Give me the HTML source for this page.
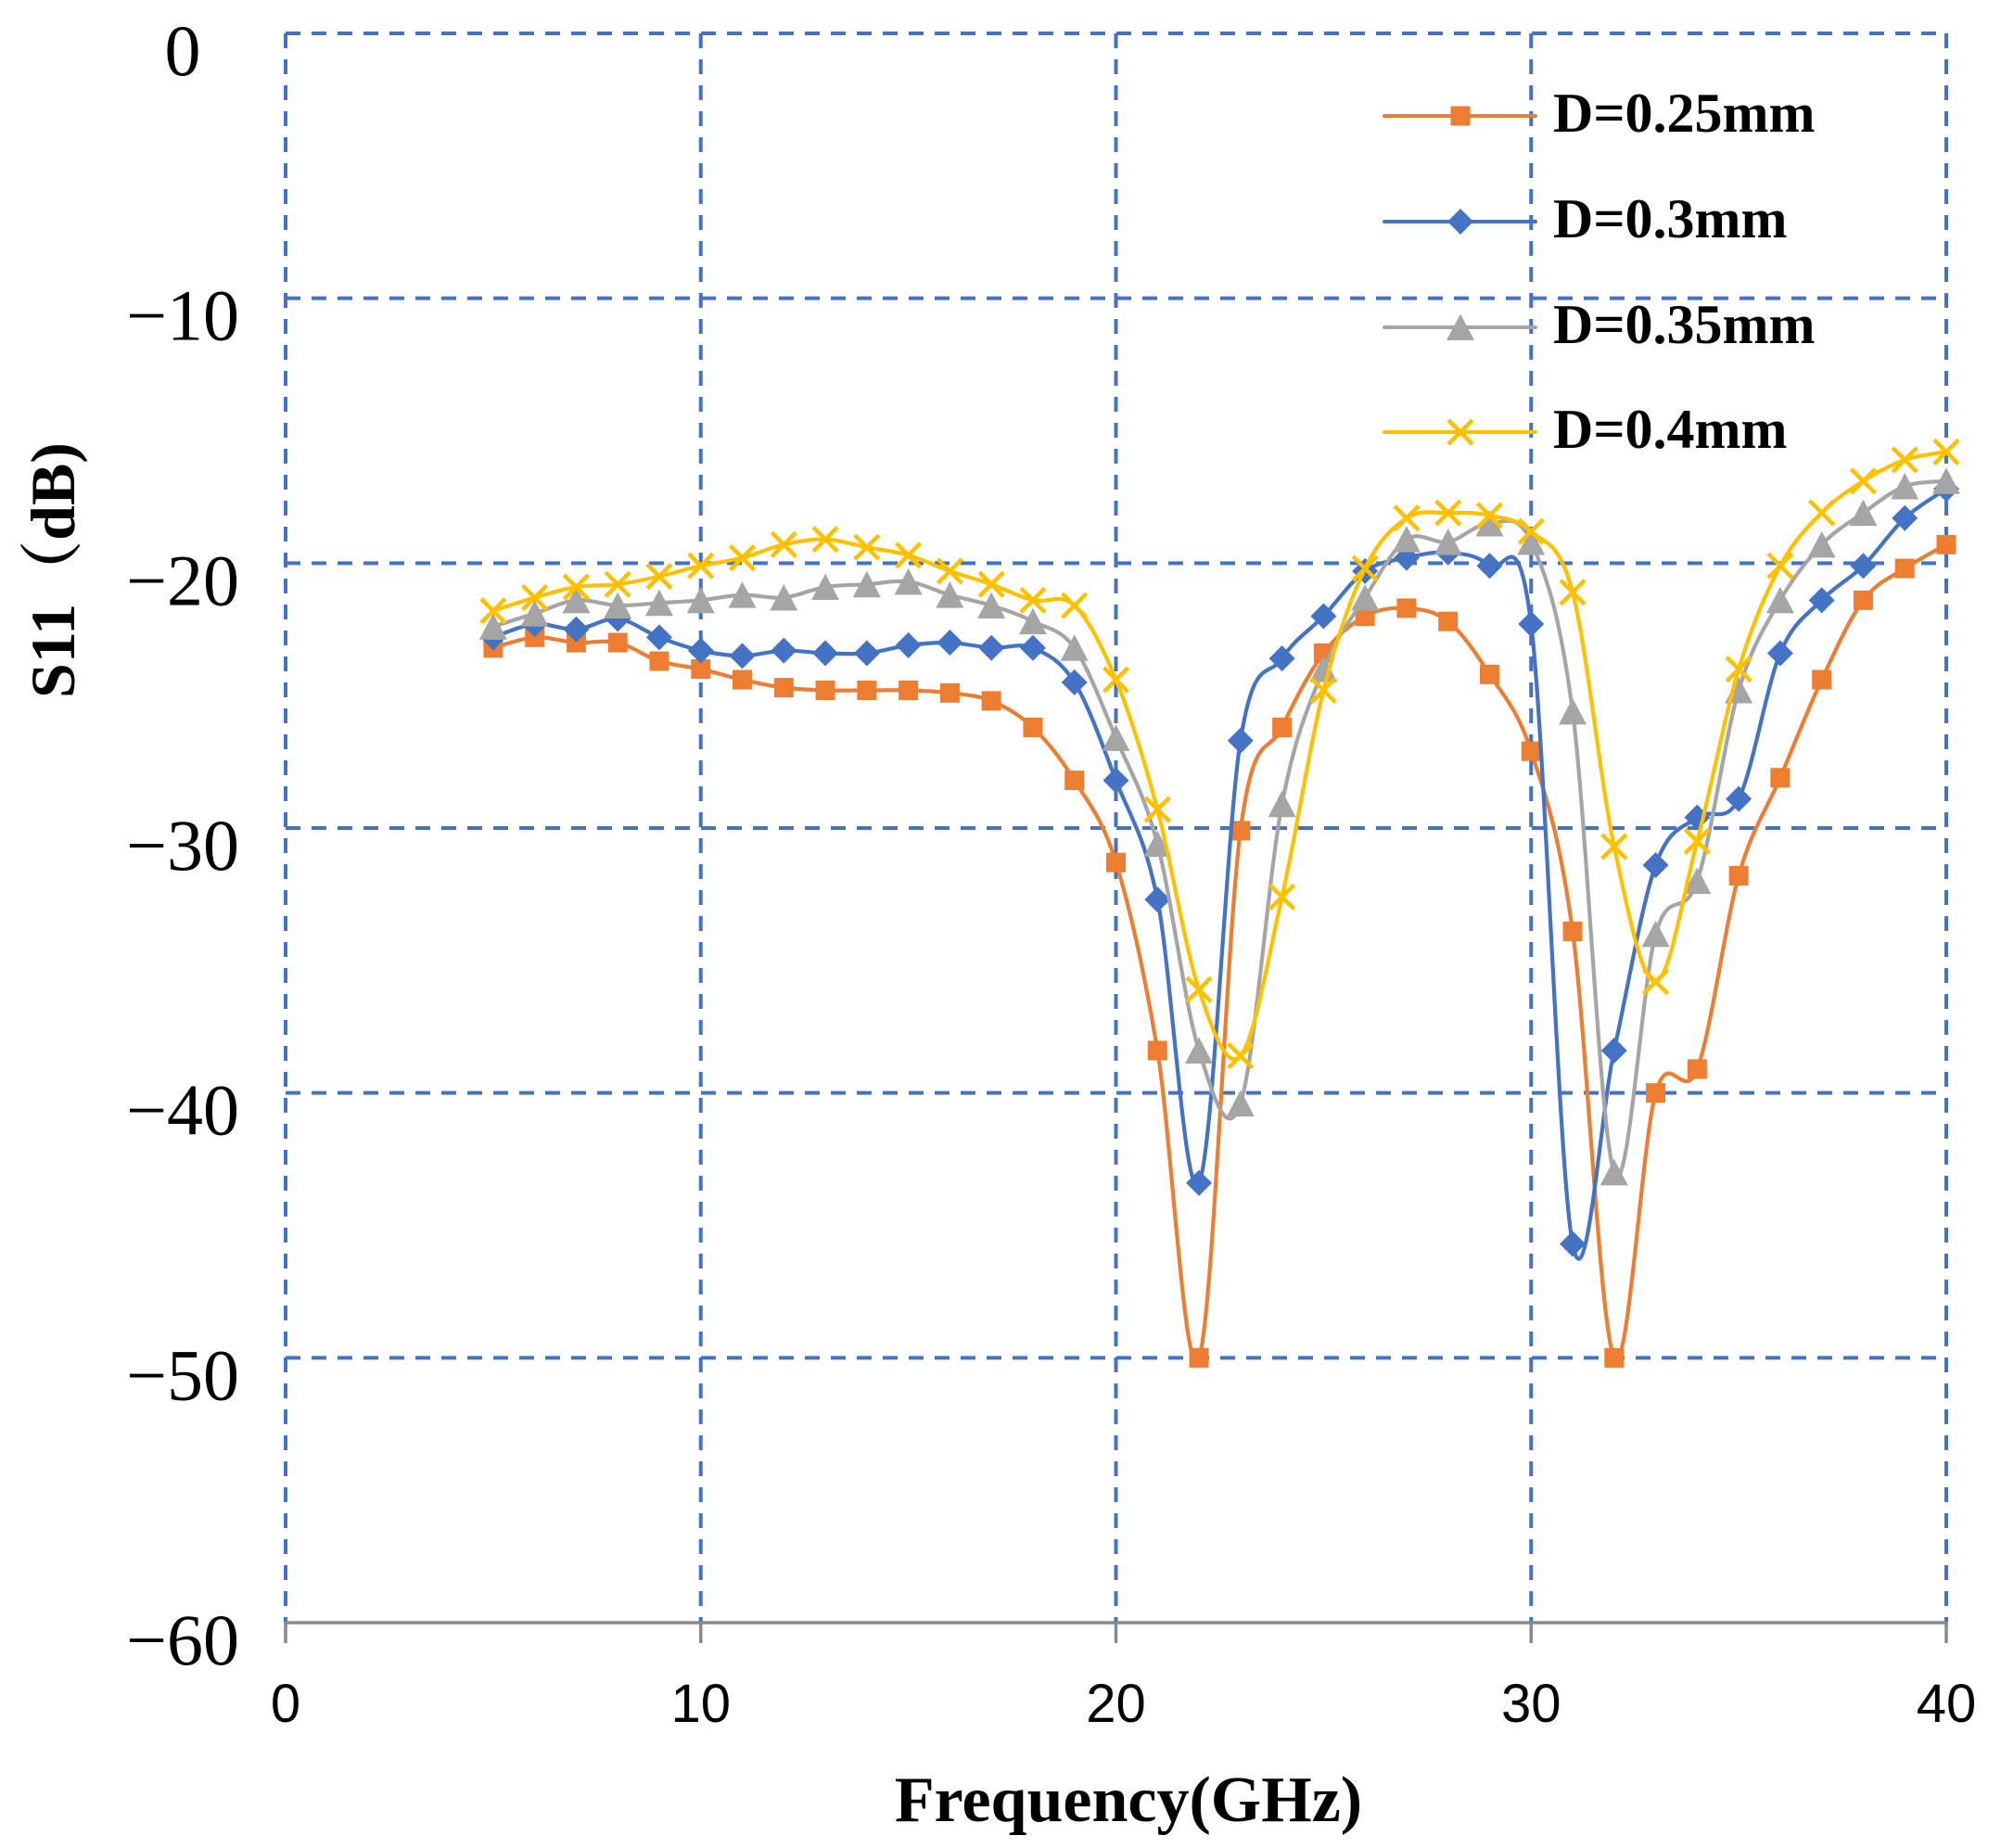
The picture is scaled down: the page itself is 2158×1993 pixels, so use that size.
<!DOCTYPE html>
<html><head><meta charset="utf-8"><style>
html,body{margin:0;padding:0;background:#fff;}
svg{display:block;}
</style></head><body>
<svg id="s" width="2158" height="1993" xmlns="http://www.w3.org/2000/svg">
<g id="grid" stroke="#4472C4" stroke-width="4" stroke-dasharray="16,12" fill="none"></g>
<g id="axis"></g>
<g id="series"></g>
<g font-family="Liberation Serif, serif" font-size="78" text-anchor="middle" fill="#000" id="ylab"></g>
<g font-family="Liberation Sans, sans-serif" font-size="58" text-anchor="middle" fill="#000" id="xlab"></g>
<text x="1217" y="1964" font-family="Liberation Serif, serif" font-weight="bold" font-size="70" text-anchor="middle">Frequency(GHz)</text>
<text transform="translate(80,615) rotate(-90)" font-family="Liberation Serif, 'Noto Serif CJK SC', serif" font-weight="bold" font-size="68" text-anchor="middle">S11（dB)</text>
<g id="legend"></g>
</svg>
<script>
var NS="http://www.w3.org/2000/svg";
function X(f){return 308+f*44.775;}
function Y(v){return 36-v*28.567;}
function el(p,t,a,txt){var e=document.createElementNS(NS,t);for(var k in a)e.setAttribute(k,a[k]);if(txt!==undefined)e.textContent=txt;p.appendChild(e);return e;}
var g=document.getElementById('grid');
for(var v=0;v>=-50;v-=10) el(g,'line',{x1:X(0),x2:X(40),y1:Y(v),y2:Y(v)});
for(var f=0;f<=40;f+=10) el(g,'line',{x1:X(f),x2:X(f),y1:Y(0),y2:Y(-60)});
var ax=document.getElementById('axis');
el(ax,'line',{x1:X(0)-1.5,x2:X(40)+1.5,y1:Y(-60),y2:Y(-60),stroke:'#898989','stroke-width':3.5});
for(var f=0;f<=40;f+=10) el(ax,'line',{x1:X(f),x2:X(f),y1:Y(-60),y2:Y(-60)+22,stroke:'#898989','stroke-width':3.5});
var yl=document.getElementById('ylab');
for(var v=0;v>=-60;v-=10) el(yl,'text',{x:197,y:Y(v)+45},v==0?'0':'\u2212'+(-v));
var xl=document.getElementById('xlab');
for(var f=0;f<=40;f+=10) el(xl,'text',{x:X(f),y:1857},''+f);
var D={
o:[-22.8,-22.4,-22.6,-22.6,-23.3,-23.6,-24.0,-24.3,-24.4,-24.4,-24.4,-24.5,-24.8,-25.8,-27.8,-30.9,-38.0,-50.0,-29.7,-25.8,-23.0,-21.6,-21.3,-21.8,-23.8,-26.7,-33.5,-50.0,-39.6,-38.7,-31.4,-27.7,-24.0,-21.0,-19.8,-18.9],
b:[-22.4,-21.9,-22.1,-21.7,-22.4,-22.9,-23.1,-22.9,-23.0,-23.0,-22.7,-22.6,-22.8,-22.8,-24.1,-27.8,-32.3,-43.0,-26.3,-23.2,-21.6,-19.9,-19.4,-19.2,-19.7,-21.9,-45.3,-38.0,-31.0,-29.2,-28.5,-23.0,-21.0,-19.7,-17.9,-16.8],
g:[-22.0,-21.5,-21.0,-21.2,-21.1,-21.0,-20.8,-20.9,-20.5,-20.4,-20.3,-20.8,-21.2,-21.8,-22.8,-26.2,-30.2,-38.0,-40.0,-28.7,-23.6,-20.9,-18.7,-18.8,-18.1,-18.8,-25.2,-42.6,-33.6,-31.6,-24.4,-21.0,-18.9,-17.7,-16.7,-16.5],
y:[-21.4,-20.9,-20.5,-20.4,-20.1,-19.7,-19.4,-18.9,-18.7,-19.0,-19.3,-19.9,-20.4,-21.0,-21.2,-24.0,-28.9,-35.7,-38.2,-32.2,-24.4,-19.8,-17.9,-17.7,-17.8,-18.4,-20.7,-30.3,-35.4,-30.1,-23.6,-19.7,-17.7,-16.5,-15.7,-15.4]};
for(var k in D){D[k]=D[k].map(function(v){return v<=-49?v:v-0.4;});}
var C={o:'#ED7D31',b:'#4472C4',g:'#A5A5A5',y:'#FFC000'};
function marker(p,k,x,y){
 var c=C[k];
 if(k=='o') el(p,'rect',{x:x-10.5,y:y-10.5,width:21,height:21,fill:c});
 else if(k=='b') el(p,'path',{d:'M'+x+','+(y-14)+'L'+(x+14)+','+y+'L'+x+','+(y+14)+'L'+(x-14)+','+y+'Z',fill:c});
 else if(k=='g') el(p,'path',{d:'M'+x+','+(y-14.5)+'L'+(x+15)+','+(y+14)+'L'+(x-15)+','+(y+14)+'Z',fill:c});
 else {el(p,'path',{d:'M'+(x-13)+','+(y-13)+'L'+(x+13)+','+(y+13)+'M'+(x+13)+','+(y-13)+'L'+(x-13)+','+(y+13),stroke:c,'stroke-width':4.5,fill:'none'});}
}
var sg=document.getElementById('series');
['o','b','g','y'].forEach(function(k){
 var P=D[k].map(function(v,i){return [X(5+i),Y(v)];});
 var d='M'+P[0][0]+','+P[0][1];
 for(var i=0;i<P.length-1;i++){
  var p0=P[i-1]||P[i],p1=P[i],p2=P[i+1],p3=P[i+2]||P[i+1];
  var t=1/6;
  d+='C'+(p1[0]+(p2[0]-p0[0])*t)+','+(p1[1]+(p2[1]-p0[1])*t)+' '+(p2[0]-(p3[0]-p1[0])*t)+','+(p2[1]-(p3[1]-p1[1])*t)+' '+p2[0]+','+p2[1];
 }
 el(sg,'path',{d:d,fill:'none',stroke:C[k],'stroke-width':4.2,'stroke-linejoin':'round'});
 P.forEach(function(p){marker(sg,k,p[0],p[1]);});
});
var lg=document.getElementById('legend');
var names={o:'D=0.25mm',b:'D=0.3mm',g:'D=0.35mm',y:'D=0.4mm'};
var ly={o:125,b:239,g:353,y:466};
['o','b','g','y'].forEach(function(k){
 el(lg,'line',{x1:1493,x2:1656,y1:ly[k],y2:ly[k],stroke:C[k],'stroke-width':4,'stroke-linecap':'round'});
 marker(lg,k,1575,ly[k]);
 el(lg,'text',{x:1675,y:ly[k]+17,'font-family':'Liberation Serif, serif','font-weight':'bold','font-size':60},names[k]);
});
</script>
</body></html>
